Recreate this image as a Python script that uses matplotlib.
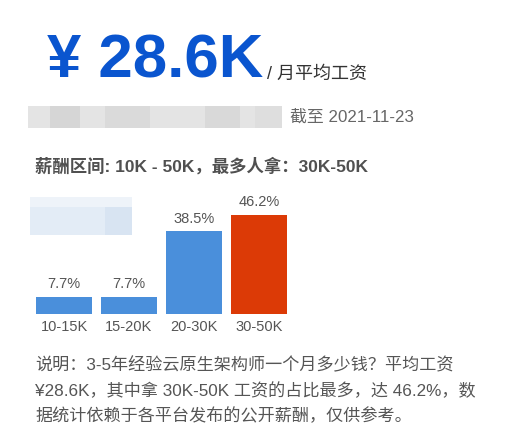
import matplotlib
matplotlib.use('Agg')
import matplotlib.pyplot as plt
from matplotlib.patches import Rectangle

plt.rcParams['font.family'] = ['Liberation Sans', 'Noto Sans CJK SC', 'DejaVu Sans']

# data
categories = ['10-15K', '15-20K', '20-30K', '30-50K']
shares = [7.7, 7.7, 38.5, 46.2]
bar_colors = ['#4a8fdb', '#4a8fdb', '#4a8fdb', '#dc3a06']

avg_salary = '¥ 28.6K'
unit_label = '/ 月平均工资'
date_label = '截至 2021-11-23'
range_label = '薪酬区间: 10K - 50K，最多人拿：30K-50K'
desc_lines = [
    '说明：3-5年经验云原生架构师一个月多少钱？平均工资',
    '¥28.6K，其中拿 30K-50K 工资的占比最多，达 46.2%，数',
    '据统计依赖于各平台发布的公开薪酬，仅供参考。',
]

W, H = 512, 441
fig = plt.figure(figsize=(W / 100, H / 100), dpi=100)
fig.patch.set_facecolor('white')


def px(x, y):
    return x / W, 1 - y / H


def box(x0, y0, x1, y1, color):
    fx, fy = px(x0, y1)
    fig.patches.append(Rectangle((fx, fy), (x1 - x0) / W, (y1 - y0) / H,
                                 transform=fig.transFigure, facecolor=color,
                                 edgecolor='none'))


# header
fig.text(*px(47, 78), avg_salary, fontsize=44.5, fontweight='bold',
         color='#0a55cf', va='baseline', ha='left')
fig.text(*px(267, 79), unit_label, fontsize=13, color='#333333',
         va='baseline', ha='left')

# blurred strip
box(28, 106, 282, 128, '#e4e4e4')
for x0, x1, c in [(50, 80, '#d6d6d6'), (105, 150, '#dadada'),
                  (205, 240, '#d9d9d9'), (255, 282, '#dedede')]:
    box(x0, 106, x1, 128, c)
fig.text(*px(290, 117), date_label, fontsize=12.2, color='#666666',
         va='center', ha='left')

fig.text(*px(35, 166), range_label, fontsize=12.5, fontweight='bold',
         color='#505050', va='center', ha='left')

# bars
left, right, bottom, top = 31.5, 291.5, 313.5, 206.5
ax = fig.add_axes([left / W, 1 - bottom / H, (right - left) / W, (bottom - top) / H])
x = range(len(categories))
bars = ax.bar(x, shares, width=0.87, color=bar_colors)
ax.set_xlim(-0.5, 3.5)
ax.set_ylim(0, 50)
for b, v in zip(bars, shares):
    ax.annotate(f'{v}%', (b.get_x() + b.get_width() / 2, v),
                xytext=(0, 4), textcoords='offset points', ha='center',
                va='bottom', fontsize=10.5, color='#555555', annotation_clip=False)
ax.set_xticks(list(x))
ax.set_xticklabels(categories, fontsize=10.5, color='#555555')
ax.tick_params(axis='x', length=0, pad=5)
ax.set_yticks([])
for s in ax.spines.values():
    s.set_visible(False)
ax.patch.set_alpha(0)

# blurred watermark over chart
box(30, 197, 132, 235, '#e3ecf6')
box(30, 197, 132, 207, '#eef3f9')
box(105, 207, 132, 235, '#d8e4f2')

# description
for i, line in enumerate(desc_lines):
    fig.text(*px(35, 365 + i * 25.5), line, fontsize=12.3, color='#555555',
             va='center', ha='left')

fig.savefig('out.png', dpi=100)
